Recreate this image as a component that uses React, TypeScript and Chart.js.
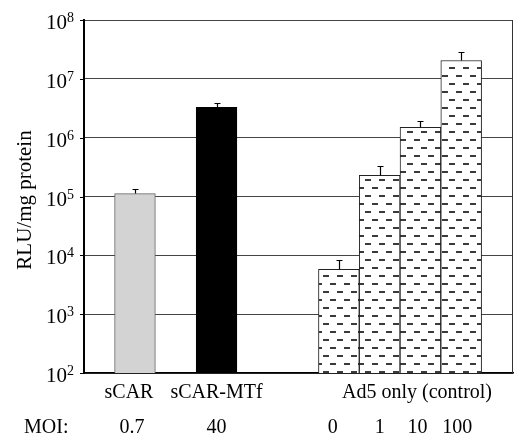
import React, { useEffect, useRef } from 'react';
import { Chart, registerables } from 'chart.js';

Chart.register(...registerables);

// ---- data ----
const groupLabels = ['sCAR', 'sCAR-MTf', 'Ad5 only (control)'];
const moiTitle = 'MOI:';
const moiLabels = ['0.7', '40', '0', '1', '10', '100'];
const barSlots = [0, 2, 5, 6, 7, 8];
const rluValues = [1.12e5, 3.28e6, 5.8e3, 2.3e5, 1.5e6, 2.05e7];
const rluUpper = [1.32e5, 3.93e6, 8.2e3, 3.3e5, 1.95e6, 2.86e7];
const yTickExponents = [2, 3, 4, 5, 6, 7, 8];
const yTitle = 'RLU/mg protein';

const FONT = "'Liberation Serif', 'Times New Roman', serif";

function makePattern(): CanvasPattern | string {
  const c = document.createElement('canvas');
  c.width = 14;
  c.height = 16;
  const g = c.getContext('2d');
  if (!g) return '#fff';
  g.fillStyle = '#ffffff';
  g.fillRect(0, 0, 14, 16);
  g.fillStyle = '#3a3a3a';
  g.fillRect(1, 3, 6, 2);
  g.fillRect(8, 11, 6, 2);
  const p = g.createPattern(c, 'repeat');
  return p || '#fff';
}

const decorPlugin = {
  id: 'decor',
  afterDatasetsDraw(chart: any) {
    const { ctx, chartArea, scales } = chart;
    const x = scales.x;
    const y = scales.y;
    ctx.save();
    // error bars (upper only)
    ctx.strokeStyle = '#000';
    ctx.lineWidth = 1.2;
    barSlots.forEach((s, i) => {
      const px = Math.round(x.getPixelForValue(s)) + 0.5;
      const y0 = y.getPixelForValue(rluValues[i]);
      const y1 = Math.round(y.getPixelForValue(rluUpper[i])) + 0.5;
      ctx.beginPath();
      ctx.moveTo(px, y0);
      ctx.lineTo(px, y1);
      ctx.moveTo(px - 3, y1);
      ctx.lineTo(px + 3, y1);
      ctx.stroke();
    });
    // right border
    ctx.strokeStyle = '#333';
    ctx.lineWidth = 1;
    ctx.beginPath();
    ctx.moveTo(chartArea.right - 0.5, chartArea.top);
    ctx.lineTo(chartArea.right - 0.5, chartArea.bottom);
    ctx.stroke();
    ctx.restore();
  },
  afterDraw(chart: any) {
    const { ctx, chartArea, scales } = chart;
    const x = scales.x;
    const y = scales.y;
    ctx.save();
    ctx.fillStyle = '#000';
    ctx.strokeStyle = '#000';
    // left tick marks and labels
    yTickExponents.forEach((e) => {
      const py = Math.round(y.getPixelForValue(Math.pow(10, e))) + 0.5;
      ctx.lineWidth = 1;
      ctx.beginPath();
      ctx.moveTo(chartArea.left - 4, py);
      ctx.lineTo(chartArea.left, py);
      ctx.stroke();
      ctx.font = `21px ${FONT}`;
      ctx.textAlign = 'right';
      ctx.textBaseline = 'alphabetic';
      ctx.fillText('10', 67, py + 8);
      ctx.font = `14px ${FONT}`;
      ctx.textAlign = 'left';
      ctx.fillText(String(e), 67, py + 1);
    });
    // y title
    ctx.save();
    ctx.translate(25, 200);
    ctx.rotate(-Math.PI / 2);
    ctx.font = `21px ${FONT}`;
    ctx.textAlign = 'center';
    ctx.textBaseline = 'middle';
    ctx.fillText(yTitle, 0, 0);
    ctx.restore();
    // group labels
    ctx.font = `20px ${FONT}`;
    ctx.textAlign = 'center';
    ctx.textBaseline = 'alphabetic';
    const ad5Slot = (barSlots[2] + barSlots[5]) / 2;
    const groupSlots = [barSlots[0], barSlots[1], ad5Slot];
    const groupShift = [-6, 0, 17];
    groupLabels.forEach((t, i) => {
      ctx.fillText(t, x.getPixelForValue(groupSlots[i]) + groupShift[i], 398);
    });
    // MOI row
    ctx.textAlign = 'left';
    ctx.fillText(moiTitle, 24, 433);
    ctx.textAlign = 'center';
    const moiShift = [-3, 0, -6, 0, -3, -4];
    moiLabels.forEach((t, i) => {
      ctx.fillText(t, x.getPixelForValue(barSlots[i]) + moiShift[i], 433);
    });
    ctx.restore();
  },
};

export default function App() {
  const ref = useRef<HTMLCanvasElement | null>(null);
  useEffect(() => {
    if (!ref.current) return;
    const pattern = makePattern();
    const chart = new Chart(ref.current, {
      type: 'bar',
      data: {
        datasets: [
          {
            data: barSlots.map((s, i) => ({ x: s, y: rluValues[i] })),
            backgroundColor: ['#d3d3d3', '#000000', pattern, pattern, pattern, pattern] as any,
            borderColor: ['#666666', '#000000', '#222222', '#222222', '#222222', '#222222'],
            borderWidth: 1,
            barPercentage: 1,
            categoryPercentage: 1,
          },
        ],
      },
      options: {
        animation: false,
        responsive: false,
        events: [],
        layout: { padding: { top: 20, right: 1, left: 0, bottom: 0 } },
        plugins: { legend: { display: false }, tooltip: { enabled: false } },
        scales: {
          x: {
            type: 'linear',
            offset: false,
            min: -1.25,
            max: 9.27,
            grid: { display: false, offset: false },
            ticks: { display: false },
            border: { display: true, color: '#000', width: 1.5 },
            afterBuildTicks: (s: any) => {
              s.ticks = barSlots.map((v) => ({ value: v }));
            },
            afterFit: (s: any) => {
              s.height = 65;
            },
          },
          y: {
            type: 'logarithmic',
            min: 100,
            max: 1e8,
            grid: { color: '#444', lineWidth: 1, drawTicks: false },
            ticks: { display: false },
            border: { display: true, color: '#000', width: 2 },
            afterBuildTicks: (s: any) => {
              s.ticks = yTickExponents.map((e) => ({ value: Math.pow(10, e) }));
            },
            afterFit: (s: any) => {
              s.width = 84;
            },
          },
        },
      },
      plugins: [decorPlugin],
    });
    return () => chart.destroy();
  }, []);
  return (
    <div style={{ position: 'absolute', left: 0, top: 0, width: 514, height: 438, background: '#fff' }}>
      <canvas ref={ref} width={514} height={438} />
    </div>
  );
}
